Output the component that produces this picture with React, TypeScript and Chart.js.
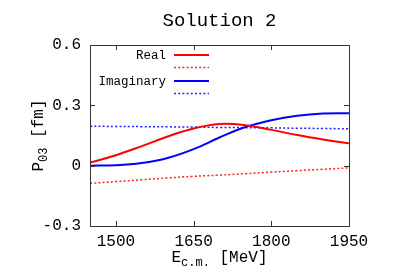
import React, { useEffect, useRef } from "react";
import { Chart, registerables } from "chart.js";

Chart.register(...registerables);

const energies = [1450, 1500, 1550, 1600, 1650, 1700, 1750, 1800, 1850, 1900, 1950];
const realSolid = [0.015, 0.052, 0.097, 0.145, 0.185, 0.207, 0.201, 0.178, 0.152, 0.13, 0.111];
const realDotted = [-0.088, -0.079, -0.07, -0.061, -0.053, -0.047, -0.04, -0.032, -0.025, -0.018, -0.011];
const imagSolid = [0.0, 0.002, 0.013, 0.038, 0.082, 0.14, 0.192, 0.226, 0.248, 0.259, 0.261];
const imagDotted = [0.196, 0.195, 0.194, 0.193, 0.192, 0.19, 0.189, 0.188, 0.186, 0.185, 0.183];

const xTicks = [1500, 1650, 1800, 1950];
const yTicks = [-0.3, 0, 0.3, 0.6];
const legendLabels = ["Real", "", "Imaginary", ""];
const titleText = "Solution 2";

const FONT = "'Liberation Mono', 'DejaVu Sans Mono', monospace";

const extras = {
  id: "extras",
  afterDraw(chart: any) {
    const ctx = chart.ctx;
    const { left, right, top, bottom } = chart.chartArea;
    const xs = chart.scales.x;
    const ys = chart.scales.y;
    ctx.save();
    // frame
    ctx.strokeStyle = "#333";
    ctx.lineWidth = 1;
    ctx.strokeRect(Math.round(left) + 0.5, Math.round(top) + 0.5, Math.round(right - left), Math.round(bottom - top));
    // inward ticks
    ctx.beginPath();
    for (const v of xTicks) {
      const px = Math.round(xs.getPixelForValue(v)) + 0.5;
      ctx.moveTo(px, bottom);
      ctx.lineTo(px, bottom - 5);
      ctx.moveTo(px, top);
      ctx.lineTo(px, top + 5);
    }
    for (const v of yTicks) {
      const py = Math.round(ys.getPixelForValue(v)) + 0.5;
      ctx.moveTo(left, py);
      ctx.lineTo(left + 5, py);
      ctx.moveTo(right, py);
      ctx.lineTo(right - 5, py);
    }
    ctx.stroke();

    ctx.fillStyle = "#000";
    // title
    ctx.font = `19px ${FONT}`;
    ctx.textAlign = "center";
    ctx.textBaseline = "alphabetic";
    ctx.fillText(titleText, (left + right) / 2, 26);

    // x axis title with subscript
    const cx = (left + right) / 2;
    ctx.textAlign = "left";
    const partsX = [
      { t: "E", f: 16, dy: 0 },
      { t: "c.m.", f: 12, dy: 4 },
      { t: " [MeV]", f: 16, dy: 0 },
    ];
    let total = 0;
    for (const p of partsX) {
      ctx.font = `${p.f}px ${FONT}`;
      total += ctx.measureText(p.t).width;
    }
    let x0 = cx - total / 2;
    for (const p of partsX) {
      ctx.font = `${p.f}px ${FONT}`;
      ctx.fillText(p.t, x0, 262 + p.dy);
      x0 += ctx.measureText(p.t).width;
    }

    // y axis title
    const cy = (top + bottom) / 2;
    const partsY = [
      { t: "P", f: 16, dy: 0 },
      { t: "03", f: 12, dy: 4 },
      { t: " [fm]", f: 16, dy: 0 },
    ];
    ctx.save();
    ctx.translate(43, cy);
    ctx.rotate(-Math.PI / 2);
    total = 0;
    for (const p of partsY) {
      ctx.font = `${p.f}px ${FONT}`;
      total += ctx.measureText(p.t).width;
    }
    let y0 = -total / 2;
    for (const p of partsY) {
      ctx.font = `${p.f}px ${FONT}`;
      ctx.fillText(p.t, y0, p.dy);
      y0 += ctx.measureText(p.t).width;
    }
    ctx.restore();

    // legend
    const rows = [55, 67.5, 81, 93.5];
    ctx.font = `12.5px ${FONT}`;
    ctx.textAlign = "right";
    ctx.textBaseline = "middle";
    chart.data.datasets.forEach((ds: any, i: number) => {
      const y = rows[i];
      if (legendLabels[i]) ctx.fillText(legendLabels[i], 166, y + 1);
      ctx.strokeStyle = ds.borderColor;
      ctx.lineWidth = ds.borderWidth;
      ctx.setLineDash(ds.borderDash || []);
      ctx.beginPath();
      ctx.moveTo(174, y);
      ctx.lineTo(209, y);
      ctx.stroke();
    });
    ctx.setLineDash([]);
    ctx.restore();
  },
};

export default function App() {
  const ref = useRef<HTMLCanvasElement | null>(null);
  useEffect(() => {
    if (!ref.current) return;
    const mk = (vals: number[]) => energies.map((e, i) => ({ x: e, y: vals[i] }));
    const chart = new Chart(ref.current, {
      type: "line",
      data: {
        datasets: [
          { label: "Real", data: mk(realSolid), borderColor: "#ff0000", borderWidth: 2, pointRadius: 0, tension: 0.4 },
          { label: "Real dotted", data: mk(realDotted), borderColor: "#ff2020", borderWidth: 1.5, borderDash: [2, 2.2], pointRadius: 0, tension: 0.4 },
          { label: "Imaginary", data: mk(imagSolid), borderColor: "#0000ff", borderWidth: 2, pointRadius: 0, tension: 0.4 },
          { label: "Imaginary dotted", data: mk(imagDotted), borderColor: "#2020ff", borderWidth: 1.5, borderDash: [2, 2.2], pointRadius: 0, tension: 0.4 },
        ],
      },
      options: {
        responsive: false,
        animation: false,
        layout: { padding: { left: 0, right: 51, top: 45, bottom: 0 } },
        plugins: { legend: { display: false }, tooltip: { enabled: false }, title: { display: false } },
        scales: {
          x: {
            type: "linear",
            min: 1450,
            max: 1950,
            afterBuildTicks: (s: any) => { s.ticks = xTicks.map((v) => ({ value: v })); },
            afterFit: (s: any) => { s.height = 54; },
            grid: { display: false, drawTicks: false },
            border: { display: false },
            ticks: {
              color: "#000",
              font: { family: FONT, size: 16 },
              padding: 6,
              maxRotation: 0,
              autoSkip: false,
              callback: (v: any) => String(v),
            },
          },
          y: {
            type: "linear",
            min: -0.3,
            max: 0.6,
            afterBuildTicks: (s: any) => { s.ticks = yTicks.map((v) => ({ value: v })); },
            afterFit: (s: any) => { s.width = 90; },
            grid: { display: false, drawTicks: false },
            border: { display: false },
            ticks: {
              color: "#000",
              font: { family: FONT, size: 16 },
              padding: 9,
              callback: (v: any) => (Math.abs(v) < 1e-9 ? "0" : Number(v).toFixed(1)),
            },
          },
        },
      },
      plugins: [extras],
    } as any);
    return () => chart.destroy();
  }, []);
  return (
    <div style={{ position: "absolute", left: 0, top: 0, width: 400, height: 280, background: "#fff" }}>
      <canvas ref={ref} width={400} height={280} />
    </div>
  );
}
